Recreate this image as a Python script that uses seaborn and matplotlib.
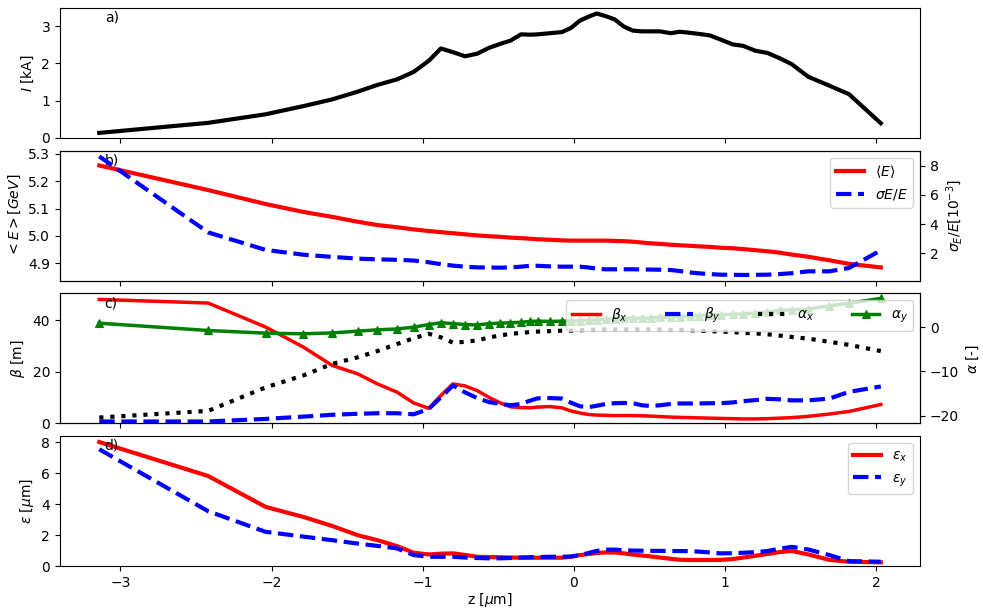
import numpy as np
import pandas as pd
import matplotlib
matplotlib.use('Agg')
import matplotlib.pyplot as plt
import seaborn as sns

# slice positions along the bunch [um]
z = [-3.14, -2.42, -2.04, -1.79, -1.60, -1.43, -1.30, -1.17, -1.06, -0.96,
     -0.88, -0.80, -0.72, -0.64, -0.56, -0.49, -0.42, -0.35, -0.29, -0.24,
     -0.16, -0.08, -0.02, 0.04, 0.10, 0.15, 0.21, 0.27, 0.33, 0.39,
     0.45, 0.51, 0.57, 0.64, 0.70, 0.77, 0.83, 0.90, 0.97, 1.05,
     1.12, 1.20, 1.28, 1.36, 1.44, 1.55, 1.69, 1.82, 2.03]

# a) current [kA]
current = [0.13, 0.40, 0.63, 0.85, 1.03, 1.24, 1.42, 1.57, 1.77, 2.07,
           2.40, 2.30, 2.19, 2.26, 2.42, 2.52, 2.61, 2.78, 2.77, 2.78,
           2.81, 2.84, 2.95, 3.15, 3.26, 3.34, 3.27, 3.18, 2.99, 2.88,
           2.86, 2.86, 2.86, 2.81, 2.85, 2.82, 2.79, 2.75, 2.64, 2.51,
           2.47, 2.34, 2.28, 2.14, 1.98, 1.64, 1.40, 1.17, 0.39]

# b) mean energy [GeV] and relative spread [1e-3]
energy = [5.258, 5.168, 5.117, 5.088, 5.070, 5.052, 5.040, 5.032, 5.024, 5.018,
          5.014, 5.010, 5.006, 5.002, 4.999, 4.997, 4.994, 4.992, 4.990, 4.988,
          4.986, 4.984, 4.983, 4.983, 4.983, 4.983, 4.983, 4.982, 4.981, 4.979,
          4.976, 4.973, 4.971, 4.968, 4.966, 4.964, 4.962, 4.960, 4.957, 4.955,
          4.952, 4.948, 4.944, 4.939, 4.932, 4.924, 4.911, 4.898, 4.885]
espread = [8.64, 3.43, 2.23, 1.90, 1.75, 1.63, 1.58, 1.55, 1.50, 1.38,
           1.25, 1.15, 1.08, 1.03, 1.02, 1.01, 1.03, 1.08, 1.14, 1.14,
           1.10, 1.08, 1.08, 1.08, 1.02, 0.94, 0.90, 0.90, 0.90, 0.90,
           0.89, 0.88, 0.87, 0.85, 0.78, 0.68, 0.62, 0.57, 0.53, 0.52,
           0.51, 0.52, 0.53, 0.57, 0.63, 0.76, 0.76, 0.99, 2.20]

# c) twiss parameters
beta_x = [48.1, 46.7, 37.4, 29.6, 22.5, 19.2, 15.3, 12.1, 7.9, 5.8,
          10.8, 15.3, 14.5, 12.7, 10.0, 8.0, 6.4, 6.1, 6.0, 6.3,
          6.5, 6.0, 4.8, 4.0, 3.4, 3.2, 3.1, 3.0, 3.0, 3.0,
          2.9, 2.8, 2.6, 2.4, 2.3, 2.2, 2.1, 2.0, 1.9, 1.8,
          1.7, 1.7, 1.8, 2.0, 2.2, 2.7, 3.6, 4.6, 7.3]
beta_y = [0.7, 0.7, 1.7, 2.6, 3.3, 3.7, 3.9, 3.9, 3.5, 5.6,
          10.1, 14.7, 12.0, 9.8, 8.2, 7.6, 7.0, 7.5, 8.8, 9.7,
          9.8, 9.6, 8.0, 6.6, 6.3, 6.8, 7.5, 7.8, 7.9, 7.8,
          7.0, 6.7, 7.0, 7.5, 7.7, 7.7, 7.7, 7.8, 7.8, 8.1,
          8.6, 9.0, 9.5, 9.3, 8.9, 8.9, 9.6, 12.2, 14.3]
alpha_x = [-20.4, -18.9, -13.6, -10.9, -8.3, -6.8, -5.4, -3.8, -2.5, -1.5,
           -2.3, -3.5, -3.3, -3.0, -2.3, -1.9, -1.5, -1.3, -1.1, -1.0,
           -0.9, -0.8, -0.8, -0.7, -0.6, -0.6, -0.5, -0.5, -0.5, -0.5,
           -0.5, -0.5, -0.5, -0.6, -0.6, -0.7, -0.8, -0.9, -1.0, -1.1,
           -1.3, -1.4, -1.6, -1.9, -2.2, -2.6, -3.3, -4.0, -5.4]
alpha_y = [0.9, -0.75, -1.35, -1.5, -1.3, -0.9, -0.6, -0.4, 0.0, 0.6,
           1.0, 0.8, 0.6, 0.5, 0.8, 0.9, 1.0, 1.1, 1.3, 1.35,
           1.3, 1.35, 1.4, 1.5, 1.6, 1.7, 1.8, 1.9, 2.0, 2.0,
           2.0, 2.1, 2.2, 2.3, 2.4, 2.5, 2.6, 2.7, 2.8, 2.9,
           3.0, 3.2, 3.4, 3.8, 3.9, 4.1, 4.8, 5.4, 6.5]

# d) emittances [um]
emit_x = [8.0, 5.81, 3.82, 3.17, 2.59, 1.99, 1.67, 1.29, 0.86, 0.75,
          0.80, 0.82, 0.72, 0.60, 0.58, 0.57, 0.55, 0.54, 0.54, 0.54,
          0.54, 0.54, 0.60, 0.71, 0.78, 0.84, 0.88, 0.88, 0.82, 0.74,
          0.68, 0.62, 0.55, 0.47, 0.41, 0.39, 0.39, 0.39, 0.40, 0.45,
          0.55, 0.66, 0.78, 0.90, 0.98, 0.75, 0.40, 0.28, 0.24]
emit_y = [7.53, 3.54, 2.21, 1.90, 1.67, 1.45, 1.30, 1.14, 0.71, 0.60,
          0.60, 0.60, 0.55, 0.52, 0.50, 0.50, 0.52, 0.55, 0.57, 0.58,
          0.60, 0.60, 0.62, 0.71, 0.85, 0.98, 1.06, 1.06, 1.02, 1.00,
          0.99, 0.98, 0.98, 0.97, 0.97, 0.96, 0.93, 0.88, 0.82, 0.83,
          0.86, 0.90, 0.97, 1.12, 1.24, 1.07, 0.71, 0.32, 0.28]

df = pd.DataFrame({'z': z, 'I': current, 'E': energy, 'sE': espread,
                   'bx': beta_x, 'by': beta_y, 'ax': alpha_x, 'ay': alpha_y,
                   'ex': emit_x, 'ey': emit_y})


def line(ax, col, **kw):
    sns.lineplot(data=df, x='z', y=col, ax=ax, sort=False, estimator=None,
                 legend=False, **kw)


fig, axes = plt.subplots(4, 1, figsize=(9.83, 6.10), dpi=100, sharex=True)
fig.subplots_adjust(left=0.061, right=0.936, top=0.987, bottom=0.072, hspace=0.1)

# a) current
ax = axes[0]
line(ax, 'I', color='black', lw=3)
ax.set_ylim(0, 3.49)
ax.set_yticks([0, 1, 2, 3])
ax.set_ylabel('$I$ [kA]')
ax.text(0.052, 0.98, 'a)', transform=ax.transAxes, va='top')

# b) energy
ax = axes[1]
ax2 = ax.twinx()
line(ax, 'E', color='red', lw=3, label=r'$\langle E\rangle$')
line(ax2, 'sE', color='blue', lw=3, linestyle='--', label=r'$\sigma E/E$')
ax.set_ylim(4.837, 5.312)
ax.set_yticks([4.9, 5.0, 5.1, 5.2, 5.3])
ax2.set_ylim(0.13, 9.03)
ax2.set_yticks([2, 4, 6, 8])
ax.set_ylabel(r'$<E> [GeV]$')
ax2.set_ylabel(r'$\sigma_E/E[10^{-3}]$')
ax.text(0.052, 0.98, 'b)', transform=ax.transAxes, va='top')
h1, l1 = ax.get_legend_handles_labels()
h2, l2 = ax2.get_legend_handles_labels()
ax2.legend(h1 + h2, l1 + l2, loc='upper right')

# c) twiss
ax = axes[2]
ax2 = ax.twinx()
line(ax, 'bx', color='red', lw=2.5, label=r'$\beta_x$')
line(ax, 'by', color='blue', lw=3, linestyle='--', label=r'$\beta_y$')
line(ax2, 'ax', color='black', lw=3, linestyle=':', label=r'$\alpha_x$')
line(ax2, 'ay', color='green', lw=2.5, marker='^', markersize=6,
     markeredgecolor='green', label=r'$\alpha_y$')
ax.set_ylim(0, 50.4)
ax.set_yticks([0, 20, 40])
ax2.set_ylim(-21.7, 7.6)
ax2.set_yticks([-20, -10, 0])
ax.set_ylabel(r'$\beta$ [m]')
ax2.set_ylabel(r'$\alpha$ [-]')
ax.text(0.052, 0.98, 'c)', transform=ax.transAxes, va='top')
h1, l1 = ax.get_legend_handles_labels()
h2, l2 = ax2.get_legend_handles_labels()
ax2.legend(h1 + h2, l1 + l2, loc='upper right', ncol=4, columnspacing=2.7)

# d) emittance
ax = axes[3]
line(ax, 'ex', color='red', lw=3, label=r'$\varepsilon_x$')
line(ax, 'ey', color='blue', lw=3, linestyle='--', label=r'$\varepsilon_y$')
ax.set_ylim(0, 8.37)
ax.set_yticks([0, 2, 4, 6, 8])
ax.set_ylabel(r'$\varepsilon$ [$\mu$m]')
ax.set_xlabel(r'z [$\mu$m]', labelpad=1)
ax.text(0.052, 0.98, 'd)', transform=ax.transAxes, va='top')
ax.legend(loc='upper right')

for a in axes:
    a.set_xlim(-3.40, 2.29)

plt.savefig('out.png', dpi=100)
